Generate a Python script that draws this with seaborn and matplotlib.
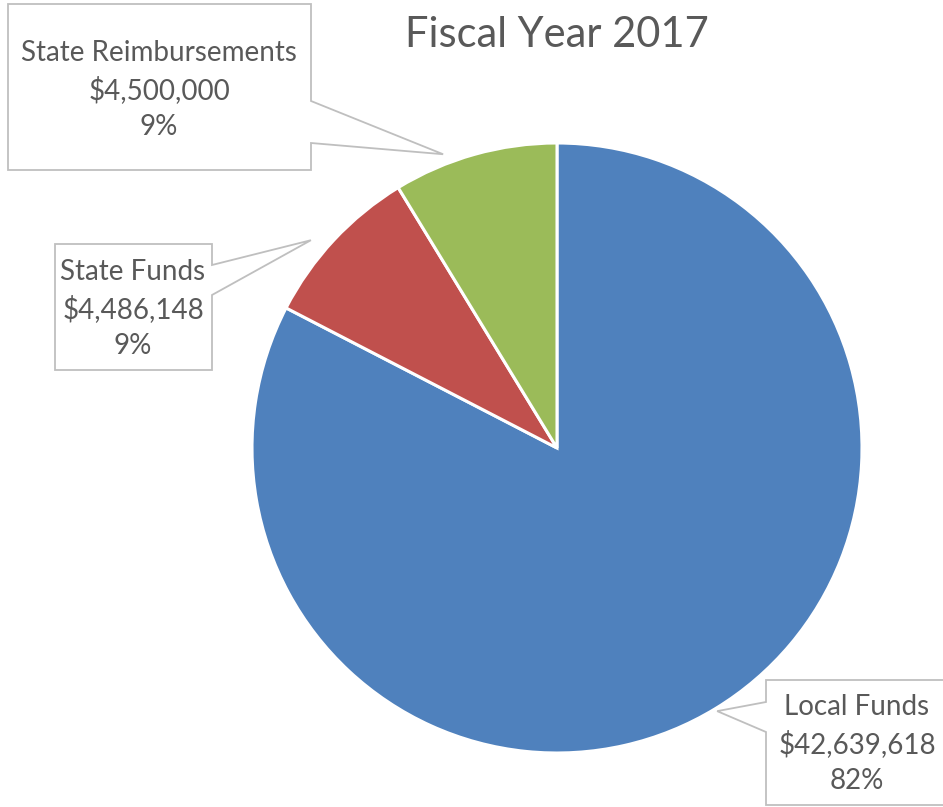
import numpy as np
import matplotlib
matplotlib.use("Agg")
import matplotlib.pyplot as plt
from matplotlib.patches import Polygon
import seaborn as sns

# Funding sources for the fiscal year
categories = ["Local Funds", "State Funds", "State Reimbursements"]
amounts = [42639618, 4486148, 4500000]
percent_labels = ["82%", "9%", "9%"]
colors = ["#4F81BD", "#C0504D", "#9BBB59"]
title = "Fiscal Year 2017"

sns.set_theme(style="white")
plt.rcParams["font.family"] = ["Lato", "DejaVu Sans"]

W, H = 943, 807
fig = plt.figure(figsize=(W / 100, H / 100), dpi=100)
ax = fig.add_axes([0, 0, 1, 1])
ax.set_xlim(0, W)
ax.set_ylim(0, H)
ax.set_aspect("equal")
ax.axis("off")


def py(y):
    """Convert a top-down pixel row into the axes' bottom-up coordinate."""
    return H - y


cx, cy, R = 557, py(448), 305
wedges, _ = ax.pie(amounts, colors=sns.color_palette(colors), startangle=90,
                   counterclock=False, center=(cx, cy), radius=R,
                   wedgeprops=dict(edgecolor="white", linewidth=2.2))
ax.set_xlim(0, W)
ax.set_ylim(0, H)

text_color = "#595959"
edge_color = "#BFBFBF"

# callout boxes: (left, top, right, bottom), side where the pointer leaves,
# the two attachment rows along that side, tip distance factor and angle shift
callouts = {
    "Local Funds": dict(box=(766, 680, 960, 805), side="left", att=(702, 732),
                        tip_r=1.01, shift=0.0, text_xy=(857, 744)),
    "State Funds": dict(box=(55, 244, 212, 370), side="right", att=(265, 295),
                        tip_r=1.056, shift=2.8, text_xy=(133, 309)),
    "State Reimbursements": dict(box=(8, 4, 311, 170), side="right", att=(101, 143),
                                 tip_r=1.033, shift=5.5, text_xy=(159, 90)),
}

for w, name, amt, pct in zip(wedges, categories, amounts, percent_labels):
    c = callouts[name]
    mid = np.deg2rad((w.theta1 + w.theta2) / 2 + c["shift"])
    tx = cx + R * c["tip_r"] * np.cos(mid)
    ty = cy + R * c["tip_r"] * np.sin(mid)
    l, t, r, b = c["box"]
    a1, a2 = c["att"]
    if c["side"] == "right":
        pts = [(l, t), (r, t), (r, a1), None, (r, a2), (r, b), (l, b)]
    else:
        pts = [(l, t), (r, t), (r, b), (l, b), (l, a2), None, (l, a1)]
    verts = []
    for p in pts:
        if p is None:
            verts.append((tx, ty))
        else:
            verts.append((p[0], py(p[1])))
    ax.add_patch(Polygon(verts, closed=True, facecolor="white",
                         edgecolor=edge_color, linewidth=1.3, zorder=3))
    ax.text(c["text_xy"][0], py(c["text_xy"][1]), f"{name}\n${amt:,.0f}\n{pct}",
            ha="center", va="center", fontsize=20, color=text_color,
            linespacing=1.47, zorder=4)

ax.text(557, py(35), title, ha="center", va="center", fontsize=30,
        color=text_color)

fig.savefig("out.png", dpi=100, facecolor="white")
